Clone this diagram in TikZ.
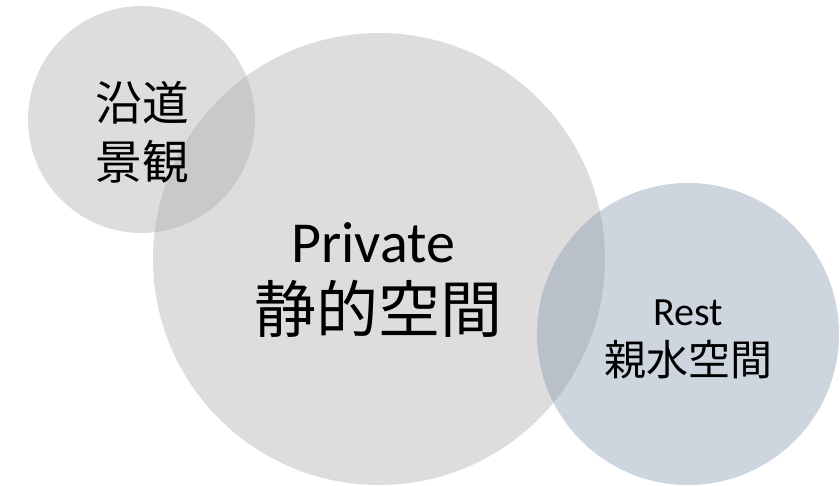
\documentclass[tikz,border=0pt]{standalone}
\usepackage{fontspec}
\setmainfont{Carlito}
\newfontfamily\jp{Noto Sans CJK JP}
\definecolor{cgray}{HTML}{DEDCDD}
\definecolor{cgrayov}{HTML}{C9C8CA}
\definecolor{cblue}{HTML}{CDD5DF}
\definecolor{cblueov}{HTML}{B9C0C9}
\tikzset{
  lbl/.style={inner sep=0pt, anchor=base, text=black},
}
\begin{document}
\begin{tikzpicture}[x=0.75pt,y=-0.75pt]
\useasboundingbox (0,0) rectangle (840,486);
% circle centres
\coordinate (cs) at (141.5,119.5);
\coordinate (cb) at (379,259);
\coordinate (cr) at (688,334);
% circles
\fill[cgray] (cs) circle (85.1pt);
\fill[cgray] (cb) circle (169.5pt);
\fill[cblue] (cr) circle (113.25pt);
% overlaps
\begin{scope}
  \clip (cs) circle (85.1pt);
  \fill[cgrayov] (cb) circle (169.5pt);
\end{scope}
\begin{scope}
  \clip (cb) circle (169.5pt);
  \fill[cblueov] (cr) circle (113.25pt);
\end{scope}
% labels
\node[lbl, font=\jp\fontsize{35}{35}\selectfont] (s1) at (142,120) {沿道};
\node[lbl, font=\jp\fontsize{35}{35}\selectfont] (s2) at (142,179) {景観};
\node[lbl, font=\fontsize{43.5}{43.5}\selectfont] (b1) at (373,262) {Private};
\node[lbl, font=\jp\fontsize{46.5}{46.5}\selectfont] (b2) at (378.5,332) {静的空間};
\node[lbl, font=\fontsize{30}{30}\selectfont] (r1) at (688,325) {Rest};
\node[lbl, font=\jp\fontsize{31.5}{31.5}\selectfont] (r2) at (688,375) {親水空間};
\end{tikzpicture}
\end{document}
